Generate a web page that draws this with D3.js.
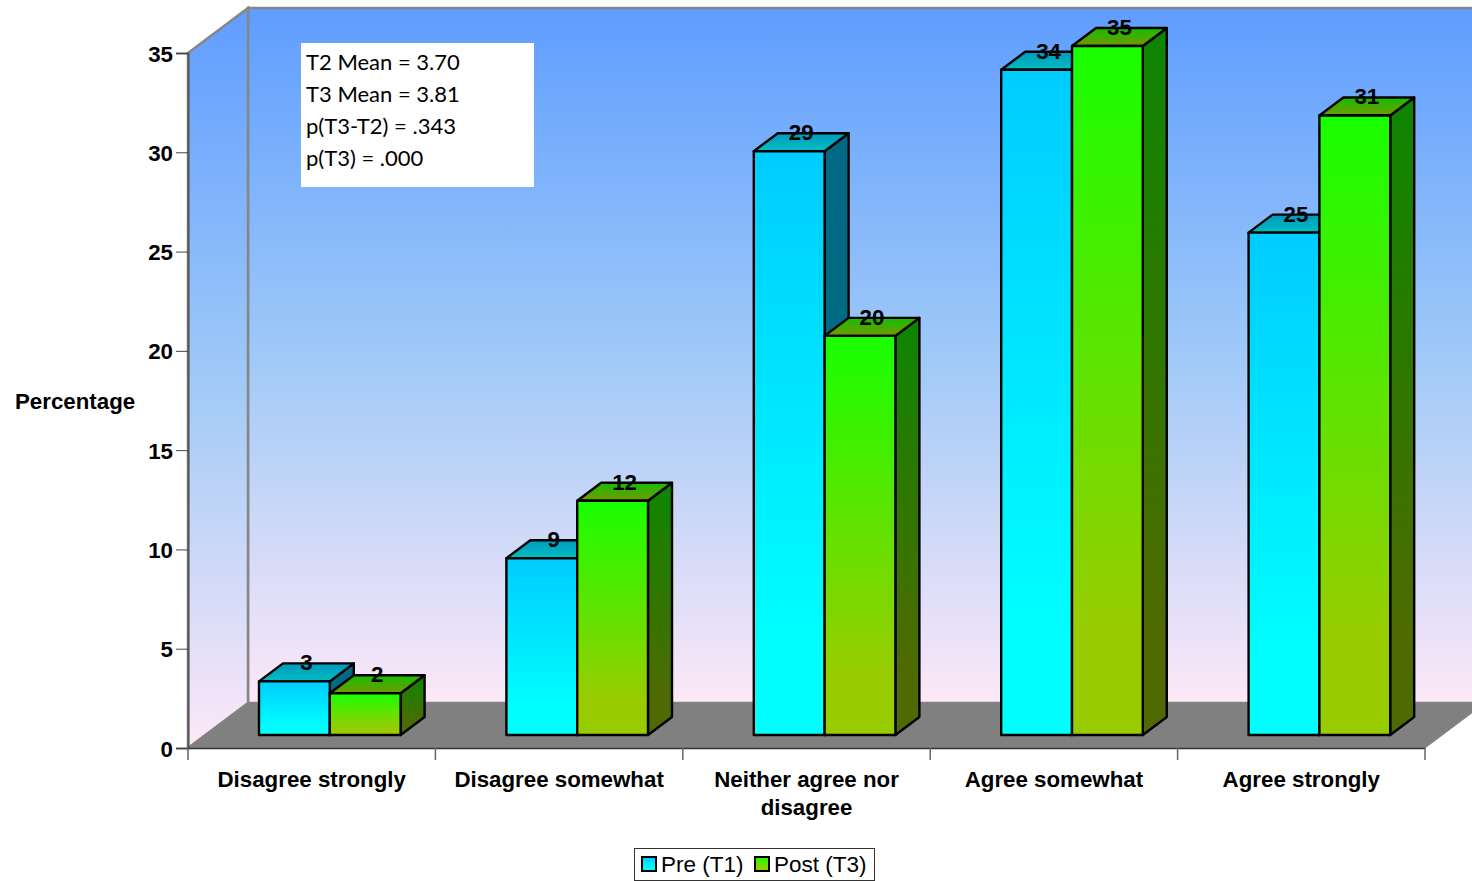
<!DOCTYPE html>
<html>
<head>
<meta charset="utf-8">
<style>
  html, body { margin: 0; padding: 0; background: #fff; overflow: hidden; }
  text { font-family: "Liberation Sans", Arial, sans-serif; fill: #000; }
  .bold { font-weight: bold; font-size: 22.3px; }
</style>
</head>
<body>
<svg id="chart" width="1472" height="881"></svg>
<script src="https://d3js.org/d3.v7.min.js"></script>
<script>
  const categories = ["Disagree strongly", "Disagree somewhat", "Neither agree nor disagree", "Agree somewhat", "Agree strongly"]
  const categoryLines = [["Disagree strongly"], ["Disagree somewhat"], ["Neither agree nor", "disagree"], ["Agree somewhat"], ["Agree strongly"]]
  const seriesNames = ["Pre (T1)", "Post (T3)"]
  const preValues = [2.7, 8.9, 29.4, 33.5, 25.3]
  const postValues = [2.1, 11.8, 20.1, 34.7, 31.2]
  const yTicks = [0, 5, 10, 15, 20, 25, 30, 35]
  const notes = ["T2 Mean = 3.70", "T3 Mean = 3.81", "p(T3-T2) = .343", "p(T3) = .000"]

  const svg = d3.select("#chart")
  const defs = svg.append("defs")

  // 3d offsets
  const wallDx = 60, wallDy = 45
  const barDx = 24, barDy = 18
  const barLift = 13

  const x = d3.scaleBand().domain(categories).range([188, 1425])
  const xSeries = d3.scaleBand().domain(seriesNames).range([71, 212.6])
  const y = d3.scaleLinear().domain([0, 35]).range([748, 53])

  function gradient(id, stops) {
    const g = defs.append("linearGradient").attr("id", id)
      .attr("x1", 0).attr("y1", 0).attr("x2", 0).attr("y2", 1)
    stops.forEach(s => g.append("stop").attr("offset", s[0]).attr("stop-color", s[1]))
  }
  gradient("wall", [[0, "#5f9dff"], [0.5, "#9fc9f7"], [1, "#fde8f8"]])
  gradient("preFront", [[0, "#00ccff"], [0.85, "#00ffff"], [1, "#00ffff"]])
  gradient("postFront", [[0, "#19ff00"], [0.85, "#99cc00"], [1, "#99cc00"]])
  gradient("preSide", [[0, "#006a85"], [1, "#006a75"]])
  gradient("postSide", [[0, "#0d8500"], [0.85, "#4f6a00"], [1, "#4f6a00"]])
  gradient("preTop", [[0, "#0099bf"], [1, "#00bfbf"]])
  gradient("postTop", [[0, "#13bf00"], [1, "#739900"]])

  const pts = a => a.map(p => p.join(",")).join(" ")

  // walls and floor
  const walls = svg.append("g")
  walls.append("polygon")
    .attr("points", pts([[188 + wallDx, y(35) - wallDy], [1472 + wallDx, y(35) - wallDy], [1472 + wallDx, y(0) - wallDy], [188 + wallDx, y(0) - wallDy]]))
    .attr("fill", "url(#wall)").attr("stroke", "#868686").attr("stroke-width", 2.5)
  walls.append("polygon")
    .attr("points", pts([[188, y(35)], [188 + wallDx, y(35) - wallDy], [188 + wallDx, y(0) - wallDy], [188, y(0)]]))
    .attr("fill", "url(#wall)").attr("stroke", "#868686").attr("stroke-width", 2.5)
  walls.append("polygon")
    .attr("points", pts([[188, y(0)], [1425, y(0)], [1425 + wallDx, y(0) - wallDy], [188 + wallDx, y(0) - wallDy]]))
    .attr("fill", "#808080").attr("stroke", "#808080").attr("stroke-width", 1)

  // axes
  const yAxis = d3.axisLeft(y).tickValues(yTicks).tickSize(12).tickPadding(3)
  const gy = svg.append("g").attr("transform", "translate(188,0)").call(yAxis)
  gy.select(".domain").attr("stroke", "#555").attr("stroke-width", 2)
  gy.selectAll("line").attr("stroke", "#444")
  gy.selectAll("text").attr("class", "bold").attr("dy", "0.36em")
  gy.attr("font-family", null).attr("font-size", null)

  const xAxis = d3.axisBottom(x).tickSize(0).tickFormat("")
  const gx = svg.append("g").attr("transform", "translate(0,748)").call(xAxis)
  gx.select(".domain").attr("stroke", "#333").attr("stroke-width", 1.5)
  svg.append("g").selectAll("line")
    .data(categories.concat(["end"]))
    .join("line")
    .attr("x1", d => d === "end" ? x.range()[1] : x(d))
    .attr("x2", d => d === "end" ? x.range()[1] : x(d))
    .attr("y1", y(0)).attr("y2", y(0) + 12)
    .attr("stroke", "#666").attr("stroke-width", 1.5)

  svg.append("g").selectAll("text")
    .data(categories)
    .join("text")
    .attr("class", "bold")
    .attr("text-anchor", "middle")
    .each(function (d, i) {
      d3.select(this).selectAll("tspan")
        .data(categoryLines[i])
        .join("tspan")
        .attr("x", x(d) + x.bandwidth() / 2)
        .attr("y", (t, j) => 787 + j * 28)
        .text(t => t)
    })

  svg.append("text").attr("class", "bold").attr("x", 15).attr("y", 409).text("Percentage")

  // bars, left to right so each one overlaps the side of the previous
  const rows = []
  categories.forEach((c, i) => {
    rows.push({ cat: c, name: seriesNames[0], key: "pre", value: preValues[i] })
    rows.push({ cat: c, name: seriesNames[1], key: "post", value: postValues[i] })
  })

  const bar = svg.append("g").selectAll("g")
    .data(rows)
    .join("g")
    .attr("stroke", "#000").attr("stroke-width", 2.4).attr("stroke-linejoin", "round")

  const barLeft = d => x(d.cat) + xSeries(d.name)
  const barRight = d => barLeft(d) + xSeries.bandwidth()
  const barTop = d => y(d.value) - barLift
  const barBase = y(0) - barLift

  bar.append("polygon").attr("fill", d => `url(#${d.key}Side)`)
    .attr("points", d => pts([[barRight(d), barTop(d)], [barRight(d) + barDx, barTop(d) - barDy], [barRight(d) + barDx, barBase - barDy], [barRight(d), barBase]]))
  bar.append("polygon").attr("fill", d => `url(#${d.key}Top)`)
    .attr("points", d => pts([[barLeft(d), barTop(d)], [barLeft(d) + barDx, barTop(d) - barDy], [barRight(d) + barDx, barTop(d) - barDy], [barRight(d), barTop(d)]]))
  bar.append("rect").attr("fill", d => `url(#${d.key}Front)`)
    .attr("x", barLeft).attr("y", barTop)
    .attr("width", xSeries.bandwidth()).attr("height", d => barBase - barTop(d))

  // value labels sit over the top face
  svg.append("g").selectAll("text")
    .data(rows)
    .join("text")
    .attr("class", "bold")
    .attr("text-anchor", "middle")
    .attr("x", d => barLeft(d) + xSeries.bandwidth() / 2 + barDx - 12)
    .attr("y", d => barTop(d) - 11)
    .text(d => Math.round(d.value))

  // note box
  svg.append("rect").attr("x", 301).attr("y", 43).attr("width", 233).attr("height", 144).attr("fill", "#fff")
  svg.append("g").selectAll("text")
    .data(notes)
    .join("text")
    .attr("x", 306)
    .attr("y", (d, i) => 70 + i * 32)
    .style("font-family", "Lato")
    .style("font-size", "22px")
    .text(d => d)

  // legend
  const legend = svg.append("g")
  legend.append("rect").attr("x", 634.5).attr("y", 848.5).attr("width", 240).attr("height", 32)
    .attr("fill", "#fff").attr("stroke", "#333").attr("stroke-width", 1)
  const legendX = d3.scaleOrdinal().domain(seriesNames).range([642, 755])
  const legendItem = legend.selectAll("g")
    .data(seriesNames)
    .join("g")
    .attr("transform", d => `translate(${legendX(d)},857)`)
  legendItem.append("rect").attr("width", 14).attr("height", 14)
    .attr("fill", (d, i) => i === 0 ? "url(#preFront)" : "url(#postFront)")
    .attr("stroke", "#000").attr("stroke-width", 2)
  legendItem.append("text").attr("x", 19).attr("y", 15)
    .style("font-size", "22.5px").text(d => d)
</script>
</body>
</html>
